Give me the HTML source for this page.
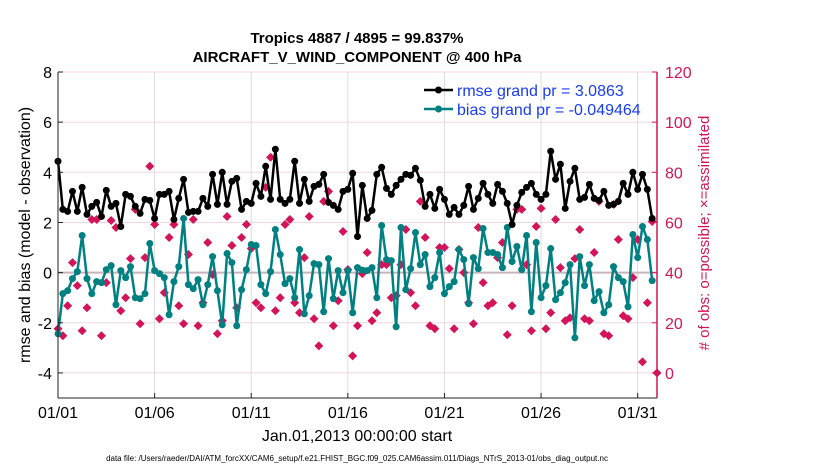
<!DOCTYPE html>
<html><head><meta charset="utf-8"><style>
body{margin:0;background:#fff;}
svg{display:block;font-family:"Liberation Sans",Arial,sans-serif;}
</style></head><body>
<svg id="chart" width="830" height="470" viewBox="0 0 830 470">
<text x="357" y="43" text-anchor="middle" font-size="15" font-weight="bold">Tropics 4887 / 4895 = 99.837%</text>
<text x="357" y="62" text-anchor="middle" font-size="15" font-weight="bold">AIRCRAFT_V_WIND_COMPONENT @ 400 hPa</text>
<g id="grid"></g>
<g id="marks"></g>
<g id="axes"></g>
<text transform="translate(30,235) rotate(-90)" text-anchor="middle" font-size="16">rmse and bias (model - observation)</text>
<text transform="translate(709,233) rotate(-90)" text-anchor="middle" font-size="15" fill="#d4145a"># of obs: o=possible; ×=assimilated</text>
<text x="357" y="441" text-anchor="middle" font-size="16">Jan.01,2013 00:00:00 start</text>
<text x="357" y="461" text-anchor="middle" font-size="8">data file: /Users/raeder/DAI/ATM_forcXX/CAM6_setup/f.e21.FHIST_BGC.f09_025.CAM6assim.011/Diags_NTrS_2013-01/obs_diag_output.nc</text>
<g>
<line x1="424" y1="90" x2="453" y2="90" stroke="#000" stroke-width="2.5"/>
<circle cx="438.5" cy="90" r="3.5" fill="#000"/>
<text x="457" y="96" font-size="16" fill="#1a3cf0">rmse grand pr = 3.0863</text>
<line x1="424" y1="109" x2="453" y2="109" stroke="#008080" stroke-width="2.5"/>
<circle cx="438.5" cy="109" r="3.5" fill="#008080"/>
<text x="457" y="115" font-size="16" fill="#1a3cf0">bias grand pr = -0.049464</text>
</g>
</svg>
<script>
const rmse=[4.44,2.52,2.44,3.24,2.44,3.4,2.32,2.64,2.8,2.24,3.28,2.64,2.76,1.84,3.12,3.04,2.64,2.36,2.92,2.88,2.16,3.12,3.12,3.24,2.12,2.96,3.72,2.4,2.44,2.44,2.96,2.64,
3.92,2.72,4.0,2.72,3.64,3.76,2.52,2.84,2.76,3.56,3.04,4.24,2.92,4.92,2.92,2.76,2.92,4.44,2.76,3.72,2.84,3.44,3.52,3.92,2.8,2.68,2.52,3.24,3.32,3.96,1.44,
3.48,2.16,2.48,3.92,4.2,3.36,3.12,3.48,3.72,3.92,3.88,4.16,3.68,2.64,3.12,2.56,3.32,2.92,2.32,2.6,2.32,2.68,3.44,2.52,2.96,3.56,3.12,2.76,3.52,3.24,2.76,
1.92,2.68,3.2,3.4,3.56,3.12,2.92,3.12,4.84,3.72,4.32,2.56,3.64,4.16,2.92,3.0,3.52,2.96,2.88,3.24,2.68,2.72,2.84,3.56,3.12,4.0,3.32,3.92,3.32,2.16];
const bias=[-2.44,-0.84,-0.72,-0.24,0.04,1.48,-0.24,-0.84,-0.36,-0.4,0.12,0.28,-1.28,0.08,-0.2,0.24,-1.0,-1.04,-0.84,1.16,0.08,-0.04,-0.2,-1.68,-0.36,0.24,2.16,-0.48,-0.64,-0.28,-1.28,-0.48,
0.64,-0.72,-2.08,0.76,0.4,-2.12,-0.68,0.12,1.12,1.08,-0.48,-0.84,0.04,1.72,0.72,-0.44,-0.24,-1.0,0.92,-1.64,-0.92,0.36,0.32,-1.56,0.56,-1.04,0.08,-0.8,0.08,-1.6,0.2,
0.1,0.08,0.2,-1.0,1.88,0.52,0.48,-2.16,1.8,-0.68,0.16,1.6,0.32,0.72,-0.56,-0.2,0.8,-0.84,-0.56,-0.36,0.92,0.52,-1.24,0.6,0.16,1.76,0.8,0.8,0.72,0.2,1.8,
0.44,1.04,0.12,1.48,-1.56,1.2,-1.0,-0.52,0.96,-1.08,-0.8,-0.4,0.32,-2.6,0.64,-0.52,0.32,-1.12,-0.76,-1.6,-1.28,0.24,-0.2,-0.36,-1.36,1.52,0.6,1.84,1.32,-0.32];
const obsCount=[17.6,14.8,26.8,44,34.8,16.8,26,61.2,61.2,14.8,36,60.8,58,24.8,30,45.6,65.2,19.6,46,82.4,59.2,21.6,32,54,59.2,26.8,19.6,47.2,61.2,18.8,28,52,
39.2,15.6,20.8,62.4,50.8,26,54,59.2,49.6,28,26,74,86,24.8,30,59.2,61.2,28,24,46,62.4,21.6,10.8,68.4,72.4,18.8,28.8,56.4,41.2,6.8,18.8,
39.6,48,20.8,24,43.2,43.2,30,30.8,43.2,57.2,32,26.8,68.4,54,18.8,17.6,50,50,41.6,17.6,49.2,40,28,19.6,58,36,26.8,28,46,52,15.2,
26.8,65.2,65.2,43.2,16.8,58.4,65.6,17.6,24,61.2,42,20.8,22,45.6,57.2,21.6,20.8,48,68.4,15.6,14.8,67.2,53.2,22.8,21.6,38,53.2,4.4,28,60.4,0];
const xTickDays=[0,5,10,15,20,25,30];
const xTickLabels=["01/01","01/06","01/11","01/16","01/21","01/26","01/31"];
const yTicks=[-4,-2,0,2,4,6,8];
const y2Ticks=[0,20,40,60,80,100,120];
const stepDays=0.25;

const NS="http://www.w3.org/2000/svg";
const L=58,R=657,T=72,B=398;
const X=d=>L+(d-0)/(31-0)*(R-L);
const Y=v=>B-(v+5)/(8+5)*(B-T);
const Y2=v=>B-(v+10)/(120+10)*(B-T);
function mk(tag,attrs,parent){const e=document.createElementNS(NS,tag);for(const k in attrs)e.setAttribute(k,attrs[k]);parent.appendChild(e);return e;}
const grid=document.getElementById('grid'),marks=document.getElementById('marks'),axes=document.getElementById('axes');

xTickDays.forEach((d,i)=>{
  const g=mk('line',{x1:X(d),x2:X(d),y1:T,y2:B,stroke:'#dcdcdc','stroke-width':1},grid);
  
  
  const t=mk('line',{x1:X(d),x2:X(d),y1:B,y2:B-5,stroke:'#222'},axes);
  
  
  const lb=mk('text',{x:X(d),y:B+20,'text-anchor':'middle','font-size':16},axes);
  lb.textContent=xTickLabels[i];
  
  
});
yTicks.forEach(v=>{
  const g=mk('line',{x1:L,x2:R,y1:Y(v),y2:Y(v),stroke:'#f0d8e2','stroke-width':1},grid);
  
  
  const t=mk('line',{x1:L,x2:L+5,y1:Y(v),y2:Y(v),stroke:'#222'},axes);
  
  
  const lb=mk('text',{x:L-6,y:Y(v)+6,'text-anchor':'end','font-size':16},axes);
  lb.textContent=v;
  
  
});
y2Ticks.forEach(v=>{
  const t=mk('line',{x1:R,x2:R-5,y1:Y2(v),y2:Y2(v),stroke:'#d4145a'},axes);
  
  
  const lb=mk('text',{x:R+8,y:Y2(v)+6,'font-size':16,fill:'#d4145a'},axes);
  lb.textContent=v;
  
  
});
const zl=mk('line',{x1:L,x2:R,y1:Y(0),y2:Y(0),stroke:'#c8b4bc','stroke-width':2},grid);


const la=mk('line',{x1:L,x2:L,y1:T,y2:B,stroke:'#222'},axes);


const ba=mk('line',{x1:L,x2:R,y1:B,y2:B,stroke:'#222'},axes);


const ra=mk('line',{x1:R,x2:R,y1:T,y2:B,stroke:'#d4145a','stroke-width':1.5},axes);



obsCount.forEach((c,i)=>{
  const x=X(i*stepDays),y=Y2(c);
  const d=mk('path',{d:`M${x},${y-4.5}L${x+4.5},${y}L${x},${y+4.5}L${x-4.5},${y}Z`,fill:'#d4145a'},marks);
  
  
});
function series(vals,color,name){
  const pts=vals.map((v,i)=>X(i*stepDays)+','+Y(v)).join(' ');
  const pl=mk('polyline',{points:pts,fill:'none',stroke:color,'stroke-width':2.5,'stroke-linejoin':'round'},marks);
  
  
  vals.forEach((v,i)=>{
    const c=mk('circle',{cx:X(i*stepDays),cy:Y(v),r:3.5,fill:color},marks);
    
    
  });
}
series(bias,'#008080','bias');
series(rmse,'#000000','rmse');
</script>
</body></html>
